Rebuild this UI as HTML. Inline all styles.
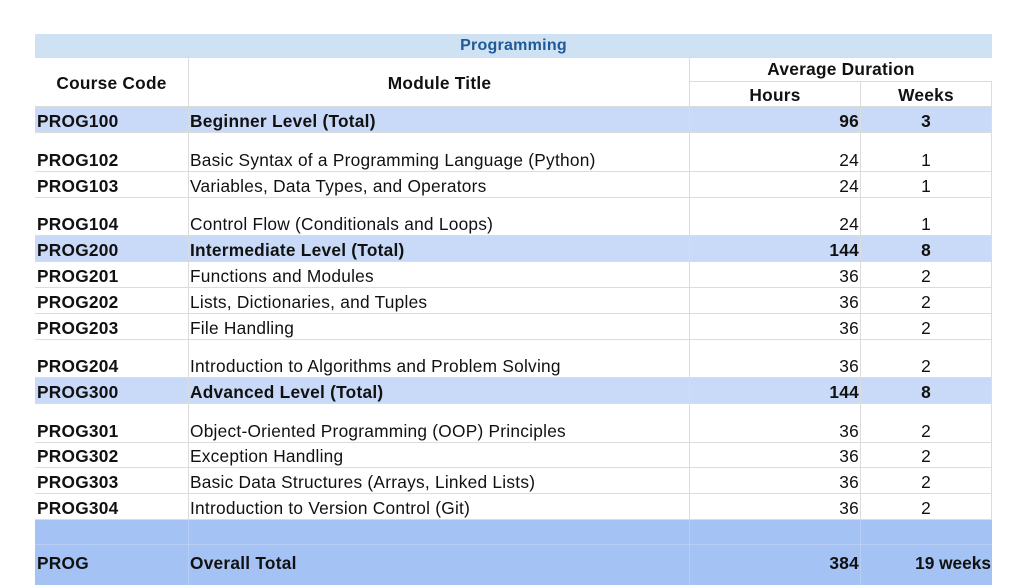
<!DOCTYPE html>
<html><head><meta charset="utf-8"><style>
body{margin:0;width:1024px;height:576px;background:#fff;overflow:hidden;font-family:"Liberation Sans",sans-serif;color:#111;}
.r{position:absolute;left:35px;width:957px;border-bottom:1px solid #dcdcdc;box-sizing:border-box;}
.c{position:absolute;top:0;bottom:0;display:flex;align-items:flex-end;padding-bottom:1px;box-sizing:border-box;font-size:17.3px;letter-spacing:0.25px;line-height:20px;white-space:nowrap;border-right:1px solid #dcdcdc;}
.a{left:0;width:154px;padding-left:2px;font-weight:bold;}
.b{left:154px;width:501px;padding-left:1px;}
.h{left:655px;width:171px;justify-content:flex-end;padding-right:1px;}
.w{left:826px;width:131px;justify-content:center;}
.t{background:#c9daf8;}
.t .c{font-weight:bold;}
.o{background:#a4c2f4;}
.o .c{font-weight:bold;border-right-color:#b8cff5;}
</style></head><body>
<div class="r" style="top:34px;height:24px;background:#cfe2f3;"><div class="c" style="left:0;width:957px;justify-content:center;font-weight:bold;color:#1f5a96;font-size:16px;padding-bottom:1px;border-right:none">Programming</div></div>
<div class="r" style="top:58px;height:49px;">
<div class="c a" style="justify-content:center;padding-left:0;padding-bottom:13px">Course Code</div>
<div class="c b" style="justify-content:center;font-weight:bold;padding-bottom:13px">Module Title</div>
<div style="position:absolute;left:655px;width:302px;top:0;height:24px;border-bottom:1px solid #dcdcdc;display:flex;justify-content:center;align-items:flex-end;font-weight:bold;font-size:17.3px;letter-spacing:0.25px;padding-bottom:1px;box-sizing:border-box">Average Duration</div>
<div class="c" style="left:655px;width:171px;top:24px;justify-content:center;font-weight:bold;padding-bottom:1px">Hours</div>
<div class="c" style="left:826px;width:131px;top:24px;justify-content:center;font-weight:bold;padding-bottom:1px">Weeks</div>
</div>
<div class="r t" style="top:107px;height:26px"><div class="c a">PROG100</div><div class="c b">Beginner Level (Total)</div><div class="c h">96</div><div class="c w">3</div></div>
<div class="r" style="top:133px;height:39px"><div class="c a">PROG102</div><div class="c b">Basic Syntax of a Programming Language (Python)</div><div class="c h">24</div><div class="c w">1</div></div>
<div class="r" style="top:172px;height:26px"><div class="c a">PROG103</div><div class="c b">Variables, Data Types, and Operators</div><div class="c h">24</div><div class="c w">1</div></div>
<div class="r" style="top:198px;height:38px"><div class="c a">PROG104</div><div class="c b">Control Flow (Conditionals and Loops)</div><div class="c h">24</div><div class="c w">1</div></div>
<div class="r t" style="top:236px;height:26px"><div class="c a">PROG200</div><div class="c b">Intermediate Level (Total)</div><div class="c h">144</div><div class="c w">8</div></div>
<div class="r" style="top:262px;height:26px"><div class="c a">PROG201</div><div class="c b">Functions and Modules</div><div class="c h">36</div><div class="c w">2</div></div>
<div class="r" style="top:288px;height:26px"><div class="c a">PROG202</div><div class="c b">Lists, Dictionaries, and Tuples</div><div class="c h">36</div><div class="c w">2</div></div>
<div class="r" style="top:314px;height:26px"><div class="c a">PROG203</div><div class="c b">File Handling</div><div class="c h">36</div><div class="c w">2</div></div>
<div class="r" style="top:340px;height:38px"><div class="c a">PROG204</div><div class="c b">Introduction to Algorithms and Problem Solving</div><div class="c h">36</div><div class="c w">2</div></div>
<div class="r t" style="top:378px;height:26px"><div class="c a">PROG300</div><div class="c b">Advanced Level (Total)</div><div class="c h">144</div><div class="c w">8</div></div>
<div class="r" style="top:404px;height:39px"><div class="c a">PROG301</div><div class="c b">Object-Oriented Programming (OOP) Principles</div><div class="c h">36</div><div class="c w">2</div></div>
<div class="r" style="top:443px;height:25px"><div class="c a">PROG302</div><div class="c b">Exception Handling</div><div class="c h">36</div><div class="c w">2</div></div>
<div class="r" style="top:468px;height:26px"><div class="c a">PROG303</div><div class="c b">Basic Data Structures (Arrays, Linked Lists)</div><div class="c h">36</div><div class="c w">2</div></div>
<div class="r" style="top:494px;height:26px"><div class="c a">PROG304</div><div class="c b">Introduction to Version Control (Git)</div><div class="c h">36</div><div class="c w">2</div></div>
<div class="r o" style="top:520px;height:25px;border-bottom-color:#b8cff5"><div class="c a"></div><div class="c b"></div><div class="c h"></div><div class="c w" style="border-right:none"></div></div>
<div class="r o" style="top:545px;height:40px;border-bottom:none"><div class="c a" style="padding-bottom:12px">PROG</div><div class="c b" style="padding-bottom:12px">Overall Total</div><div class="c h" style="padding-bottom:12px">384</div><div class="c w" style="padding-bottom:12px;border-right:none;justify-content:flex-end;padding-right:1px;letter-spacing:0">19 weeks</div></div>
</body></html>
